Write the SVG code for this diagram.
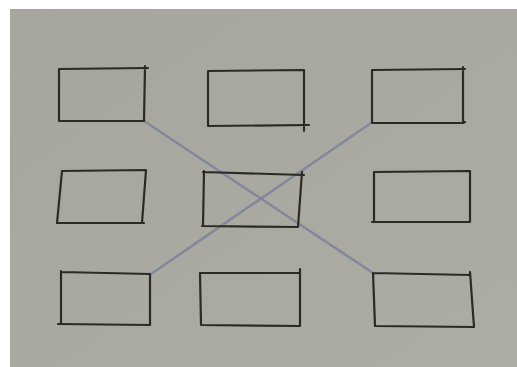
<svg xmlns="http://www.w3.org/2000/svg" width="517" height="367" viewBox="0 0 517 367">
<style>
.box{fill:none;stroke:#2b2a27;stroke-width:2.2;stroke-linecap:round;stroke-linejoin:round}
.conn{fill:none;stroke:#7c8498;stroke-width:2.6;stroke-linecap:round;opacity:0.85}
</style>
<defs>
<linearGradient id="paper" x1="0" y1="0" x2="1" y2="1">
<stop offset="0" stop-color="#a7a69e"/>
<stop offset="1" stop-color="#adaca4"/>
</linearGradient>
</defs>
<rect x="0" y="0" width="517" height="367" fill="#ffffff"/>
<rect x="10" y="9" width="507" height="358" fill="url(#paper)"/>
<g id="connectors">
<path class="conn" d="M144 121 L373 273"/>
<path class="conn" d="M371 123 L151 274"/>
</g>
<g id="node-1"><path class="box" d="M59 69 L148 68 M145 66 L144 121 L59 121 L59 69"/></g>
<g id="node-2"><path class="box" d="M208 71 L304 70 L304 131 M208 71 L208 126 L309 125"/></g>
<g id="node-3"><path class="box" d="M372 70 L465 69 M463 67 L463 123 L465 122 M463 123 L372 123 L372 70"/></g>
<g id="node-4"><path class="box" d="M62 171 L146 170 L142 223 M62 171 L57 223 L144 223"/></g>
<g id="node-5"><path class="box" d="M203 172 L304 175 M302 172 L298 227 L202 226 M204 171 L203 226"/></g>
<g id="node-6"><path class="box" d="M374 172 L470 171 L470 222 L372 222 M374 172 L374 222"/></g>
<g id="node-7"><path class="box" d="M61 271 L61 324 M61 272 L150 274 L150 325 L58 324"/></g>
<g id="node-8"><path class="box" d="M200 273 L300 273 M300 269 L300 326 L201 325 L200 273"/></g>
<g id="node-9"><path class="box" d="M373 273 L470 275 M470 272 L474 327 L375 326 L373 273"/></g>
</svg>
